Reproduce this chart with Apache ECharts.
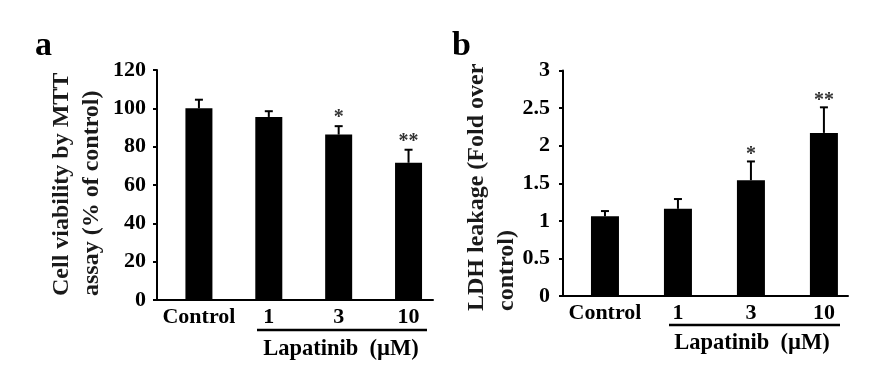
<!DOCTYPE html>
<html>
<head>
<meta charset="utf-8">
<script src="https://cdn.jsdelivr.net/npm/echarts@6/dist/echarts.min.js"></script>
<style>
  body { margin: 0; background: #fff; }
  #chart { width: 880px; height: 378px; }
</style>
</head>
<body>
<div id="chart"></div>
<script>
const categories = ["Control", "1", "3", "10"];

// panel a: MTT cell viability (% of control)
const viability = [100, 95.5, 86.3, 71.6];
const viabilityErr = [4.5, 3, 4.4, 6.8];
const viabilitySig = ["", "", "*", "**"];

// panel b: LDH leakage (fold over control)
const ldh = [1.06, 1.16, 1.54, 2.17];
const ldhErr = [0.07, 0.13, 0.25, 0.34];
const ldhSig = ["", "", "*", "**"];

const serif = "Liberation Serif";

const chart = echarts.init(document.getElementById("chart"));

function barData(values) {
  return values.map((v, i) => [i, v]);
}

function errData(values, errs) {
  return values.map((v, i) => [i, v, errs[i]]);
}

function errorBars(sig, gap) {
  return function (params, api) {
    const x = api.value(0);
    const v = api.value(1);
    const e = api.value(2);
    const top = api.coord([x, v + e]);
    const base = api.coord([x, v]);
    const line = { stroke: "#000", lineWidth: 2 };
    const children = [
      { type: "line", shape: { x1: top[0], y1: top[1], x2: base[0], y2: base[1] }, style: line },
      { type: "line", shape: { x1: top[0] - 4, y1: top[1], x2: top[0] + 4, y2: top[1] }, style: line },
    ];
    const mark = sig[params.dataIndex];
    if (mark) {
      children.push({
        type: "text",
        x: top[0],
        y: top[1] - gap,
        style: {
          text: mark,
          fill: "#333",
          font: "bold 20px " + serif,
          align: "center",
          verticalAlign: "middle",
        },
      });
    }
    return { type: "group", children: children };
  };
}

const tickLabel = {
  color: "#000",
  fontFamily: serif,
  fontWeight: "bold",
  fontSize: 22,
};

function xAxisFor(gridIndex, min, max) {
  return {
    type: "value",
    gridIndex: gridIndex,
    min: min,
    max: max,
    splitLine: { show: false },
    axisTick: { show: false },
    axisLine: { onZero: false, lineStyle: { color: "#000", width: 2 } },
    axisLabel: Object.assign({}, tickLabel, {
      margin: 6,
      customValues: [0, 1, 2, 3],
      formatter: (v) => categories[Math.round(v)],
    }),
  };
}

function yAxisFor(gridIndex, max, interval, margin) {
  return {
    type: "value",
    gridIndex: gridIndex,
    min: 0,
    max: max,
    interval: interval,
    splitLine: { show: false },
    axisLine: { show: true, onZero: false, lineStyle: { color: "#000", width: 2 } },
    axisTick: { show: true, inside: false, length: 4, lineStyle: { color: "#000", width: 2 } },
    axisLabel: Object.assign({}, tickLabel, { margin: margin }),
  };
}

function rotatedTitle(x, y, text) {
  return {
    type: "text",
    x: x,
    y: y,
    rotation: Math.PI / 2,
    style: {
      text: text,
      fill: "#1a1a1a",
      font: "bold 24px " + serif,
      align: "left",
      verticalAlign: "middle",
      lineHeight: 30,
    },
  };
}

function plainText(x, y, text, size, align) {
  return {
    type: "text",
    x: x,
    y: y,
    style: {
      text: text,
      fill: "#000",
      font: "bold " + size + "px " + serif,
      align: align,
      verticalAlign: "middle",
    },
  };
}

chart.setOption({
  animation: false,
  backgroundColor: "#fff",
  grid: [
    { left: 157, top: 70, width: 276, height: 230 },
    { left: 563, top: 70.5, width: 285, height: 225.5 },
  ],
  xAxis: [xAxisFor(0, -0.6, 3.35), xAxisFor(1, -0.575, 3.33)],
  yAxis: [yAxisFor(0, 120, 20, 11), yAxisFor(1, 3, 0.5, 13)],
  series: [
    {
      type: "bar",
      xAxisIndex: 0,
      yAxisIndex: 0,
      barWidth: 27,
      itemStyle: { color: "#000" },
      data: barData(viability),
    },
    {
      type: "custom",
      xAxisIndex: 0,
      yAxisIndex: 0,
      z: 3,
      renderItem: errorBars(viabilitySig, 8),
      data: errData(viability, viabilityErr),
    },
    {
      type: "bar",
      xAxisIndex: 1,
      yAxisIndex: 1,
      barWidth: 28,
      itemStyle: { color: "#000" },
      data: barData(ldh),
    },
    {
      type: "custom",
      xAxisIndex: 1,
      yAxisIndex: 1,
      z: 3,
      renderItem: errorBars(ldhSig, 7),
      data: errData(ldh, ldhErr),
    },
  ],
  graphic: [
    plainText(35, 46, "a", 34, "left"),
    plainText(452, 46, "b", 34, "left"),
    rotatedTitle(77, 296, "Cell viability by MTT\nassay (% of control)"),
    rotatedTitle(492, 311, "LDH leakage (Fold over\ncontrol)"),
    { type: "line", shape: { x1: 257, y1: 330, x2: 427, y2: 330 }, style: { stroke: "#000", lineWidth: 2.5 } },
    { type: "line", shape: { x1: 669, y1: 325, x2: 840, y2: 325 }, style: { stroke: "#000", lineWidth: 2.5 } },
    plainText(341, 349, "Lapatinib  (\u00b5M)", 22.5, "center"),
    plainText(752, 343, "Lapatinib  (\u00b5M)", 22.5, "center"),
  ],
});
</script>
</body>
</html>
